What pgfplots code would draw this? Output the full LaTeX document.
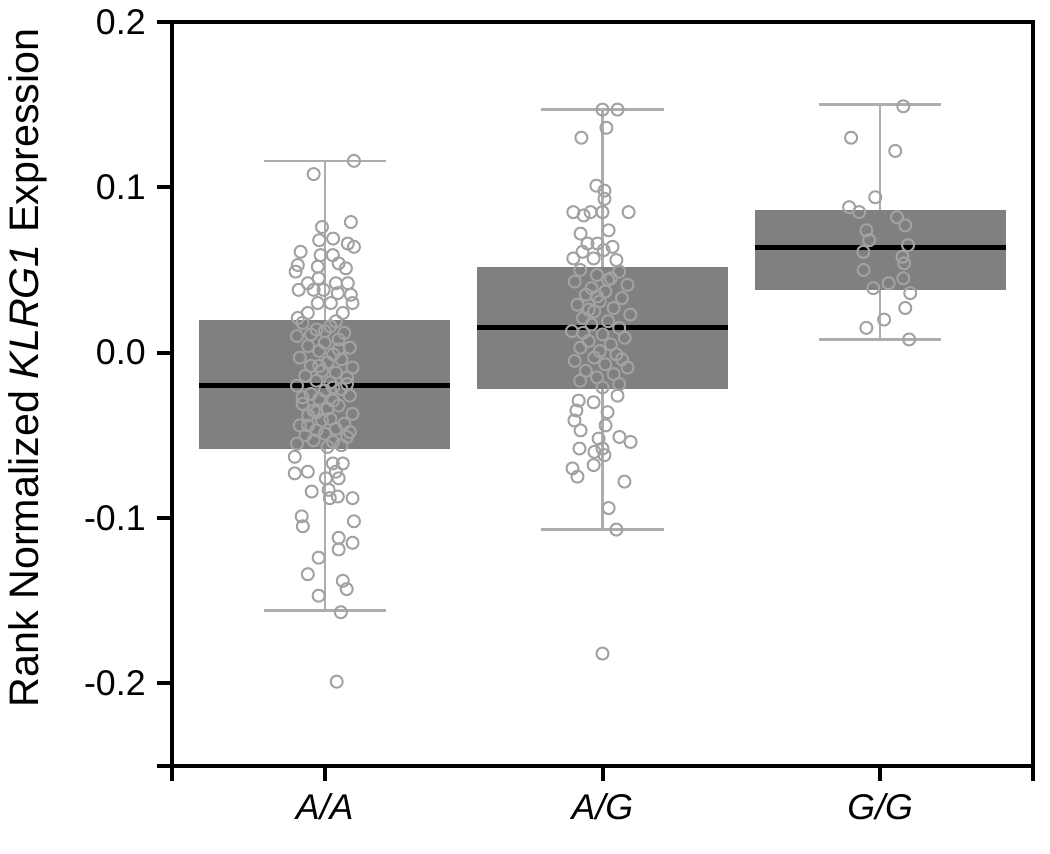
\documentclass[border=0pt]{standalone}
\usepackage{fontspec}
\setmainfont{Liberation Sans}
\usepackage{pgfplots}
\pgfplotsset{compat=1.18}
\usepgfplotslibrary{statistics}
\definecolor{boxgray}{HTML}{808080}
\definecolor{ptgray}{HTML}{A2A2A2}
\definecolor{whgray}{HTML}{ADADAD}
\begin{document}
\begin{tikzpicture}
\begin{axis}[
 at={(68.8pt,35.2pt)}, anchor=south west,
 scale only axis, width=344.4pt, height=297.6pt,
 xmin=-0.55, xmax=2.55, ymin=-0.25, ymax=0.2,
 axis line style={line width=1.6pt},
 xtick={-0.55,0,1,2,2.55}, xticklabels={,A/A,A/G,G/G,},
 ytick={-0.25,-0.2,-0.1,0,0.1,0.2}, yticklabels={,-0.2,-0.1,0.0,0.1,0.2},
 tick align=outside, tick pos=left, major tick length=6pt,
 every tick/.style={black, line width=1.6pt},
 yticklabel style={font=\fontsize{14.3}{16}\selectfont, xshift=-1pt},
 xticklabel style={font=\fontsize{14.3}{16}\selectfont\itshape, yshift=-1.5pt},
 ylabel={Rank Normalized \textit{KLRG1} Expression},
 ylabel style={at={(axis description cs:-0.19,0.535)}, anchor=north, inner sep=0pt, font=\fontsize{16.5}{18}\selectfont},
 clip=false,
 boxplot/draw direction=y,
 boxplot/every box/.style={fill=boxgray, draw=none},
 boxplot/every median/.style={black, line width=2pt},
 boxplot/every whisker/.style={whgray, line width=1pt},
]
% boxes
\addplot[boxplot/draw direction=y, boxplot prepared={draw position=0, median=-0.020, upper quartile=0.020, lower quartile=-0.058, upper whisker=0.116, lower whisker=-0.156, box extend=0.905, whisker extend=0.44}] coordinates {};
\addplot[boxplot/draw direction=y, boxplot prepared={draw position=1, median=0.015, upper quartile=0.052, lower quartile=-0.022, upper whisker=0.147, lower whisker=-0.107, box extend=0.905, whisker extend=0.44}] coordinates {};
\addplot[boxplot/draw direction=y, boxplot prepared={draw position=2, median=0.0636, upper quartile=0.086, lower quartile=0.0376, upper whisker=0.150, lower whisker=0.008, box extend=0.905, whisker extend=0.44}] coordinates {};
% points A/A
\addplot[only marks, mark=o, mark size=2.4pt, mark options={ptgray, line width=0.8pt}] table {
x y
0.105 0.116
-0.04 0.108
0.094 0.079
-0.01 0.076
-0.02 0.068
0.03 0.069
0.105 0.064
0.083 0.066
-0.087 0.061
-0.015 0.059
0.029 0.059
-0.097 0.053
-0.105 0.049
-0.025 0.052
0.05 0.054
0.076 0.051
-0.061 0.042
-0.022 0.045
0.04 0.042
0.083 0.042
-0.094 0.038
-0.04 0.038
-0.004 0.038
0.047 0.036
0.094 0.035
-0.025 0.030
0.022 0.030
0.1 0.030
-0.061 0.024
0.065 0.024
-0.097 0.021
-0.08 0.018
0.02 0.016
-0.03 0.014
0.07 0.012
-0.1 0.010
0.05 0.008
0.0 0.006
-0.06 0.004
0.09 0.003
-0.02 0.001
0.03 -0.001
-0.09 -0.003
0.06 -0.004
0.01 -0.006
-0.05 -0.008
0.1 -0.009
-0.01 -0.011
0.04 -0.012
-0.07 -0.014
0.08 -0.015
-0.03 -0.017
0.02 -0.018
-0.1 -0.02
0.06 -0.022
0.0 -0.023
-0.05 -0.025
0.09 -0.026
-0.02 -0.028
0.03 -0.029
-0.08 -0.031
0.05 -0.032
0.01 -0.034
-0.04 -0.035
0.1 -0.037
-0.06 -0.038
0.02 -0.040
-0.01 -0.041
0.07 -0.043
-0.09 -0.044
0.04 -0.046
-0.03 -0.047
0.0 -0.049
-0.07 -0.050
0.08 -0.051
-0.04 -0.053
0.03 -0.054
-0.1 -0.055
0.06 -0.056
0.01 -0.057
-0.05 0.011
0.04 0.019
-0.02 -0.008
0.08 -0.019
-0.06 -0.044
0.05 0.002
-0.08 -0.027
0.0 0.013
0.09 -0.048
-0.03 -0.036
0.03 -0.021
-0.108 -0.063
-0.108 -0.073
-0.061 -0.072
0.029 -0.067
0.065 -0.067
0.04 -0.072
0.004 -0.076
0.05 -0.076
-0.047 -0.084
0.014 -0.083
0.047 -0.087
0.018 -0.088
0.1 -0.088
-0.083 -0.099
-0.079 -0.105
0.105 -0.102
0.05 -0.112
0.05 -0.119
0.1 -0.115
-0.022 -0.124
-0.061 -0.134
0.065 -0.138
0.079 -0.143
-0.022 -0.147
0.058 -0.157
0.043 -0.199
};
% points A/G
\addplot[only marks, mark=o, mark size=2.4pt, mark options={ptgray, line width=0.8pt}] table {
x y
1.0 0.147
1.054 0.147
1.014 0.136
0.924 0.130
0.978 0.101
1.007 0.098
1.007 0.093
0.895 0.085
0.932 0.083
0.957 0.085
1.0 0.085
1.094 0.085
1.022 0.074
0.921 0.072
0.946 0.066
0.982 0.066
1.036 0.064
0.928 0.061
1.004 0.062
0.895 0.057
0.968 0.057
1.05 0.056
0.92 0.050
1.06 0.049
0.98 0.047
1.03 0.045
0.9 0.043
1.09 0.041
0.96 0.039
1.01 0.037
0.94 0.035
1.07 0.033
0.99 0.031
0.91 0.029
1.04 0.027
0.97 0.025
1.1 0.023
0.93 0.021
1.02 0.019
0.96 0.017
1.06 0.015
0.89 0.013
1.0 0.011
1.08 0.009
0.95 0.007
1.03 0.005
0.92 0.003
0.99 0.001
1.05 -0.001
0.97 -0.003
0.9 -0.005
1.01 -0.007
1.09 -0.009
0.94 -0.011
1.04 -0.013
0.98 -0.015
0.92 -0.017
1.06 -0.019
1.0 -0.021
0.95 0.026
1.02 0.044
0.93 0.012
1.07 -0.004
0.98 0.034
1.054 -0.026
0.968 -0.030
0.914 -0.029
0.906 -0.035
1.018 -0.036
0.899 -0.041
1.011 -0.044
0.921 -0.047
0.986 -0.052
1.061 -0.051
1.101 -0.054
0.917 -0.058
1.0 -0.058
0.971 -0.060
1.007 -0.062
0.892 -0.070
0.968 -0.068
0.91 -0.075
1.079 -0.078
1.022 -0.094
1.05 -0.107
1.0 -0.182
};
% points G/G
\addplot[only marks, mark=o, mark size=2.4pt, mark options={ptgray, line width=0.8pt}] table {
x y
2.083 0.149
1.895 0.130
2.054 0.122
1.982 0.094
1.888 0.088
1.924 0.085
2.09 0.077
1.95 0.074
1.939 0.061
2.086 0.054
2.083 0.045
1.975 0.039
2.108 0.036
2.09 0.027
2.014 0.020
1.95 0.015
2.104 0.008
2.06 0.082
1.96 0.068
2.1 0.065
1.94 0.050
2.08 0.058
2.03 0.042
};
\end{axis}
\pgfresetboundingbox
\path[use as bounding box] (0,0) rectangle (420pt,341.6pt);
\end{tikzpicture}
\end{document}
